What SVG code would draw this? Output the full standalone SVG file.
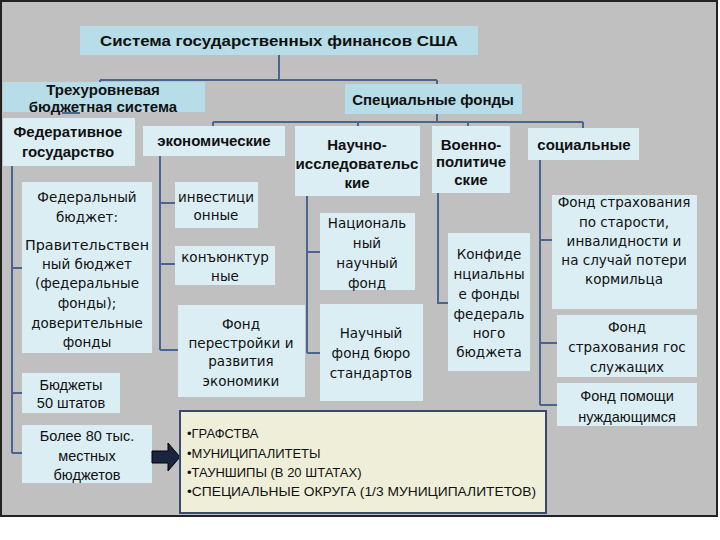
<svg xmlns="http://www.w3.org/2000/svg" width="720" height="540" viewBox="0 0 720 540">
<style>
.hdr{fill:#b7dde8}
.box{fill:#dbeef4}
.b{font-family:"Liberation Sans",Arial,sans-serif;font-weight:bold;font-size:15px;fill:#111;text-anchor:middle}
.r{font-family:"DejaVu Sans",sans-serif;font-size:13.5px;fill:#111;text-anchor:middle}
.c{font-family:"Liberation Sans",Arial,sans-serif;font-size:14.5px;fill:#111;text-anchor:middle}
.l{font-family:"Liberation Sans",Arial,sans-serif;font-size:13px;fill:#111}
.con{fill:none;stroke:#4a6590;stroke-width:2}
</style>
<rect x="0" y="0" width="720" height="540" fill="#ffffff"/>
<rect x="1" y="1" width="716" height="515" fill="#c0c0c0" stroke="#222" stroke-width="2"/>
<g id="connectors" class="con">
<path d="M279,55 V80 M100,80 H437 M100,80 V84 M437,80 V84"/>
<path d="M437,114 V122 M213,122 H583 M213,122 V126 M358,122 V126 M468,122 V126 M583,122 V128"/>
<path d="M62,113 H80"/>
<path d="M12,166 V453 M12,268 H22 M12,393 H22 M12,453 H28"/>
<path d="M160,156 V350 M160,203 H175 M160,264 H175 M160,350 H178"/>
<path d="M307,196 V353 M307,252 H320 M307,353 H320"/>
<path d="M438,193 V303 H448"/>
<path d="M540,160 V405 M540,240 H552 M540,343 H557 M540,405 H557"/>
</g>
<g id="title"><rect class="hdr" x="80" y="26" width="398" height="29"/><text class="b" x="279" y="46" textLength="358" lengthAdjust="spacingAndGlyphs">Система государственных финансов США</text></g>
<g id="three-level"><rect class="hdr" x="3" y="82" width="202" height="30"/><text class="b" x="103" y="95">Трехуровневая</text><text class="b" x="103" y="112">бюджетная система</text></g>
<g id="special"><rect class="hdr" x="345" y="84" width="177" height="30"/><text class="b" x="433" y="105">Специальные фонды</text></g>
<g id="federative"><rect class="box" x="3" y="118" width="132" height="48"/><text class="b" x="68" y="137">Федеративное</text><text class="b" x="68" y="157">государство</text></g>
<g id="economic"><rect class="box" x="143" y="126" width="142" height="30"/><text class="b" x="214" y="146">экономические</text></g>
<g id="science"><rect class="box" x="295" y="126" width="125" height="70"/><text class="b" x="357" y="150">Научно-</text><text class="b" x="357" y="169" textLength="123" lengthAdjust="spacingAndGlyphs">исследовательс</text><text class="b" x="357" y="188">кие</text></g>
<g id="military"><rect class="box" x="432" y="126" width="78" height="67"/><text class="b" x="471" y="150">Военно-</text><text class="b" x="471" y="167">политиче</text><text class="b" x="471" y="185">ские</text></g>
<g id="social"><rect class="box" x="528" y="128" width="111" height="32"/><text class="b" x="584" y="150">социальные</text></g>
<g id="federal-budget"><rect class="box" x="22" y="182" width="130" height="171"/>
<text class="r" x="87" y="202">Федеральный</text><text class="r" x="87" y="222">бюджет:</text>
<text class="r" x="87" y="250" textLength="124" lengthAdjust="spacingAndGlyphs">Правительствен</text><text class="r" x="87" y="269">ный бюджет</text><text class="r" x="87" y="288">(федеральные</text><text class="r" x="87" y="308">фонды);</text><text class="r" x="87" y="328">доверительные</text><text class="r" x="87" y="347">фонды</text></g>
<g id="states"><rect class="box" x="22" y="373" width="98" height="40"/><text class="c" x="71" y="390">Бюджеты</text><text class="c" x="71" y="408">50 штатов</text></g>
<g id="local"><rect class="box" x="22" y="425" width="130" height="58"/><text class="c" x="87" y="441">Более 80 тыс.</text><text class="c" x="87" y="461">местных</text><text class="c" x="87" y="480">бюджетов</text></g>
<g id="invest"><rect class="box" x="175" y="182" width="83" height="46"/><text class="r" x="216" y="202">инвестици</text><text class="r" x="216" y="220">онные</text></g>
<g id="conj"><rect class="box" x="175" y="246" width="100" height="39"/><text class="r" x="225" y="262">конъюнктур</text><text class="r" x="225" y="281">ные</text></g>
<g id="restructure"><rect class="box" x="178" y="305" width="127" height="92"/><text class="r" x="241" y="329">Фонд</text><text class="r" x="241" y="348">перестройки и</text><text class="r" x="241" y="366">развития</text><text class="r" x="241" y="386">экономики</text></g>
<g id="national"><rect class="box" x="320" y="213" width="95" height="77"/><text class="r" x="367" y="228">Националь</text><text class="r" x="367" y="248">ный</text><text class="r" x="367" y="268">научный</text><text class="r" x="367" y="288">фонд</text></g>
<g id="standards"><rect class="box" x="320" y="304" width="103" height="97"/><text class="r" x="371" y="338">Научный</text><text class="r" x="371" y="358">фонд бюро</text><text class="r" x="371" y="378">стандартов</text></g>
<g id="confidential"><rect class="box" x="448" y="233" width="82" height="138"/><text class="r" x="489" y="259">Конфиде</text><text class="r" x="489" y="279">нциальны</text><text class="r" x="489" y="299">е фонды</text><text class="r" x="489" y="319">федераль</text><text class="r" x="489" y="338">ного</text><text class="r" x="489" y="357">бюджета</text></g>
<g id="pension"><rect class="box" x="552" y="195" width="145" height="114"/><text class="r" x="624" y="207">Фонд страхования</text><text class="r" x="624" y="227">по старости,</text><text class="r" x="624" y="246">инвалидности и</text><text class="r" x="624" y="265">на случай потери</text><text class="r" x="624" y="284">кормильца</text></g>
<g id="civil"><rect class="box" x="557" y="315" width="140" height="62"/><text class="r" x="627" y="332">Фонд</text><text class="r" x="627" y="352">страхования гос</text><text class="r" x="627" y="372">служащих</text></g>
<g id="needy"><rect class="box" x="557" y="383" width="140" height="43"/><text class="c" x="627" y="401">Фонд помощи</text><text class="c" x="627" y="422">нуждающимся</text></g>
<g id="arrow"><polygon points="152,451 168,451 168,443 180,457 168,471 168,463 152,463" fill="#1a2540" stroke="#000" stroke-width="1"/></g>
<g id="list"><rect x="180" y="411" width="366" height="102" fill="#efefd9" stroke="#3a4a6b" stroke-width="2"/>
<text class="l" x="187" y="438">•ГРАФСТВА</text>
<text class="l" x="187" y="458">•МУНИЦИПАЛИТЕТЫ</text>
<text class="l" x="187" y="477">•ТАУНШИПЫ (В 20 ШТАТАХ)</text>
<text class="l" x="187" y="496" textLength="349" lengthAdjust="spacingAndGlyphs">•СПЕЦИАЛЬНЫЕ ОКРУГА (1/3 МУНИЦИПАЛИТЕТОВ)</text></g>
</svg>
